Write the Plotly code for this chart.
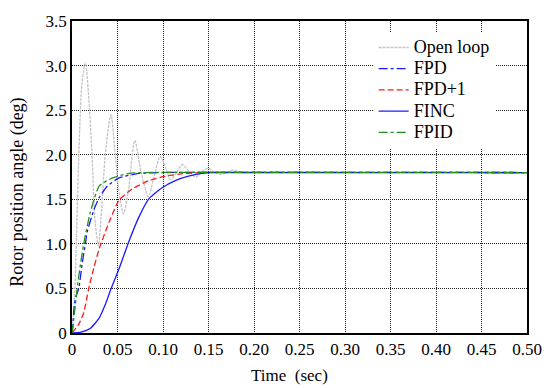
import plotly.graph_objects as go

# ---- data ----
t_open = [0, 0.003, 0.0055, 0.0075, 0.011, 0.0147, 0.018, 0.022, 0.025, 0.029, 0.032,
          0.0366, 0.0428, 0.0475, 0.052, 0.0566, 0.062, 0.069, 0.076, 0.084, 0.09,
          0.097, 0.103, 0.108, 0.115, 0.121, 0.128, 0.136, 0.142, 0.149, 0.156,
          0.163, 0.17, 0.178, 0.185, 0.2, 0.5]
y_open = [0, 0.45, 1.3, 2.0, 2.8, 3.03, 2.7, 2.0, 1.3, 0.98, 1.3,
          2.0, 2.45, 2.0, 1.55, 1.34, 1.6, 2.16, 1.8, 1.53, 1.75,
          1.98, 1.85, 1.72, 1.8, 1.89, 1.82, 1.75, 1.8, 1.85, 1.81,
          1.78, 1.8, 1.83, 1.8, 1.8, 1.8]

t_fpd = [0, 0.001, 0.002, 0.004, 0.0075, 0.011, 0.0147, 0.0166, 0.024, 0.030, 0.039,
         0.0517, 0.0735, 0.1, 0.5]
y_fpd = [0, 0.07, 0.25, 0.4, 0.5, 0.77, 1.0, 1.13, 1.38, 1.52, 1.65,
         1.74, 1.79, 1.8, 1.8]

t_fpd1 = [0, 0.0075, 0.013, 0.0184, 0.024, 0.030, 0.041, 0.0517, 0.066, 0.0844,
          0.1026, 0.124, 0.146, 0.5]
y_fpd1 = [0, 0.1, 0.23, 0.5, 0.73, 0.95, 1.25, 1.49, 1.615, 1.71,
          1.76, 1.79, 1.8, 1.8]

t_finc = [0, 0.01, 0.02, 0.03, 0.037, 0.043, 0.0517, 0.0626, 0.0735, 0.0844,
          0.099, 0.1135, 0.128, 0.1425, 0.155, 0.5]
y_finc = [0, 0.01, 0.05, 0.17, 0.33, 0.5, 0.72, 1.03, 1.30, 1.505,
          1.63, 1.71, 1.76, 1.79, 1.8, 1.8]

t_fpid = [0, 0.003, 0.0057, 0.0093, 0.0129, 0.020, 0.030, 0.0445, 0.0626, 0.08, 0.5]
y_fpid = [0, 0.25, 0.5, 0.77, 1.0, 1.35, 1.65, 1.74, 1.79, 1.8, 1.8]

x_ticks = [0, 0.05, 0.10, 0.15, 0.20, 0.25, 0.30, 0.35, 0.40, 0.45, 0.50]
x_ticktext = ["0", "0.05", "0.10", "0.15", "0.20", "0.25", "0.30", "0.35", "0.40", "0.45", "0.50"]
y_ticks = [0, 0.5, 1.0, 1.5, 2.0, 2.5, 3.0, 3.5]
y_ticktext = ["0", "0.5", "1.0", "1.5", "2.0", "2.5", "3.0", "3.5"]
series_names = ["Open loop", "FPD", "FPD+1", "FINC", "FPID"]

FONT = "Liberation Serif"


def lg(name):
    return '<span style="font-size:18px">' + name + '</span>'


fig = go.Figure()
fig.add_trace(go.Scatter(x=t_open, y=y_open, name=lg(series_names[0]), mode="lines",
                         line=dict(color="#c4c4c4", width=1.3, dash="3px,1px", shape="spline", smoothing=0.8)))
fig.add_trace(go.Scatter(x=t_fpd, y=y_fpd, name=lg(series_names[1]), mode="lines",
                         line=dict(color="#1a1aff", width=1.3, dash="dashdot", shape="spline", smoothing=0.5)))
fig.add_trace(go.Scatter(x=t_fpd1, y=y_fpd1, name=lg(series_names[2]), mode="lines",
                         line=dict(color="#ff1a1a", width=1.3, dash="6px,3px", shape="spline", smoothing=0.5)))
fig.add_trace(go.Scatter(x=t_finc, y=y_finc, name=lg(series_names[3]), mode="lines",
                         line=dict(color="#1a1aff", width=1.3, shape="spline", smoothing=0.5)))
fig.add_trace(go.Scatter(x=t_fpid, y=y_fpid, name=lg(series_names[4]), mode="lines",
                         line=dict(color="#1f8f1f", width=1.3, dash="dashdot", shape="spline", smoothing=0.5)))

axis_common = dict(showgrid=True, gridcolor="#222222", griddash="1px,1px", gridwidth=1,
                   zeroline=False, showline=True, linecolor="black", linewidth=1.5,
                   mirror=True, ticks="", tickfont=dict(family=FONT, size=17, color="black"))

fig.update_layout(
    width=554, height=388,
    margin=dict(l=72, r=22, t=16, b=55),
    paper_bgcolor="white", plot_bgcolor="white",
    font=dict(family=FONT, size=16, color="black"),
    xaxis=dict(range=[0, 0.5], tickvals=x_ticks, ticktext=x_ticktext, **axis_common),
    yaxis=dict(range=[0, 3.5], tickvals=y_ticks, ticktext=y_ticktext, **axis_common),
    legend=dict(x=0.663, y=0.965, xanchor="left", yanchor="top", bgcolor="white",
                borderwidth=0, font=dict(family=FONT, size=14, color="black"),
                tracegroupgap=0, itemwidth=30),
    showlegend=True,
    annotations=[
        dict(text="Time  (sec)", xref="paper", yref="paper", x=(292 - 72) / 460, y=(333 - 376) / 317,
             showarrow=False, xanchor="center", yanchor="middle",
             font=dict(family=FONT, size=17, color="black")),
        dict(text="Rotor position angle (deg)", xref="paper", yref="paper",
             x=(17 - 72) / 460, y=(333 - 190) / 317, textangle=-90,
             showarrow=False, xanchor="center", yanchor="middle",
             font=dict(family=FONT, size=18, color="black")),
    ],
)

fig.write_html("out.html")
